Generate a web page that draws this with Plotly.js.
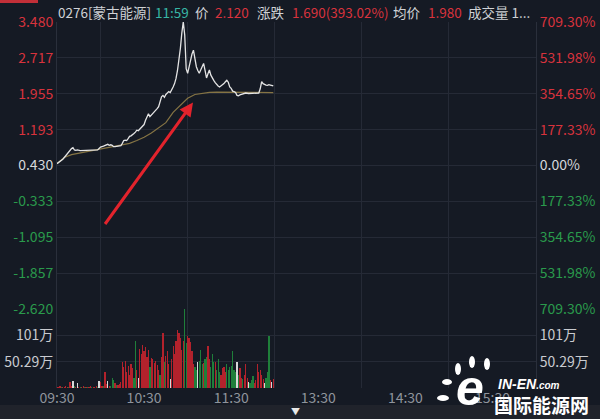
<!DOCTYPE html>
<html>
<head>
<meta charset="utf-8">
<script src="https://cdn.plot.ly/plotly-3.0.1.min.js"></script>
<style>
  html, body { margin: 0; padding: 0; background: #151a24; }
  #chart { width: 600px; height: 419px; }
</style>
</head>
<body>
<div id="chart"></div>
<script>
// ---------- data ----------
const prevClose = 0.430;

// minutes since 09:30 (trading-minute index; 12:00 joins 13:00 at 150)
const timeMin = [0,1,2,3,4,5,6,7,8,9,10,11,12,13,14,16,18,20,22,24,26,28,29,30,32,34,35,36,37,38,39,40,42,43,44,45,46,47,48,49,
  50,51,52,53,54,55,56,57,58,59,60,61,62,63,64,65,66,67,68,69,70,71,72,73,74,75,76,77,78,79,
  80,81,82,83,84,85,86,87,88,89,90,91,92,93,94,95,96,97,98,99,100,101,102,103,104,105,106,107,108,109,
  110,111,112,113,114,115,116,117,118,119,120,121,122,123,124,125,126,127,128,129,130,132,134,136,138,139,
  140,141,142,143,144,145,146,147,148,149];
const price = [0.470,0.490,0.520,0.540,0.560,0.600,0.640,0.660,0.700,0.740,0.790,0.810,0.760,0.750,0.760,0.745,0.750,0.750,0.750,0.750,0.755,0.760,0.790,0.820,0.840,0.860,0.880,0.860,0.870,0.860,0.830,0.830,0.835,0.840,0.850,0.900,0.960,0.970,0.960,1.000,
  1.050,1.060,1.080,1.110,1.140,1.180,1.170,1.200,1.240,1.260,1.300,1.390,1.460,1.530,1.470,1.500,1.550,1.570,1.600,1.640,1.680,1.780,1.890,1.920,1.880,1.940,1.980,2.000,1.980,2.030,
  2.100,2.170,2.280,2.450,2.650,2.920,3.250,3.480,3.200,2.490,2.390,2.550,2.680,2.800,2.880,2.650,2.530,2.450,2.390,2.460,2.540,2.600,2.450,2.290,2.380,2.460,2.350,2.280,2.240,2.190,
  2.140,2.120,2.100,2.120,2.150,2.170,2.210,2.240,2.200,2.100,2.070,2.010,2.000,1.980,1.920,1.910,1.930,1.940,1.940,1.960,1.970,1.960,1.960,1.960,1.955,1.970,
  2.060,2.210,2.170,2.150,2.140,2.135,2.150,2.140,2.130,2.120];

const avgTime  = [0,5,10,15,20,25,30,35,40,45,50,55,60,65,70,75,80,85,90,95,100,105,110,120,130,140,149];
const avgPrice = [0.470,0.600,0.660,0.690,0.710,0.740,0.770,0.800,0.830,0.860,0.900,0.960,1.030,1.120,1.230,1.340,1.560,1.720,1.860,1.940,1.970,1.985,1.990,1.990,1.985,1.980,1.980];

// volume per minute (万股), minutes 0..149; direction 1 up, -1 down, 0 flat
const volMin = Array.from({length: 150}, (_, i) => i);
const vol = [
  2,1,3,2,1,2,3,2,2,12,
  4,14,3,2,10,2,1,2,3,2,
  1,2,2,3,2,1,2,3,2,14,
  12,3,4,30,8,14,3,4,20,15,
  10,5,6,8,12,50,40,52,30,42,
  25,45,38,20,90,35,20,75,65,82,
  70,78,60,72,40,58,55,48,52,44,
  35,25,60,105,50,62,70,45,18,55,
  80,65,90,110,105,95,72,90,150.87,85,
  100,95,88,70,45,40,35,50,52,72,
  45,48,55,60,80,55,40,65,50,50,
  35,55,30,25,38,40,30,45,35,40,
  42,70,35,30,50,25,38,20,18,25,
  45,20,12,10,15,22,10,15,45,30,
  35,25,18,10,20,30,100,15,12,18];
const volDir = [
  1,1,1,-1,1,1,1,1,-1,1,
  1,0,-1,1,0,1,-1,1,1,-1,
  1,-1,1,1,-1,1,1,1,-1,0,
  1,1,-1,1,1,0,1,-1,-1,-1,
  1,-1,1,1,1,1,1,1,1,1,
  1,1,1,-1,-1,1,0,1,1,1,
  1,1,1,1,-1,1,1,1,1,1,
  1,-1,1,1,-1,1,1,1,0,1,
  1,1,1,1,1,1,1,1,-1,-1,
  1,1,1,1,1,-1,-1,0,-1,-1,
  -1,1,-1,-1,1,1,-1,-1,-1,1,
  -1,-1,-1,1,1,1,1,-1,-1,-1,
  -1,-1,-1,-1,0,-1,1,1,-1,1,
  1,1,0,-1,-1,-1,1,1,1,1,
  1,1,1,0,-1,-1,-1,1,0,1];

const priceTicks    = [3.480, 2.717, 1.955, 1.193, 0.430, -0.333, -1.095, -1.857, -2.620];
const priceTickText = ['3.480','2.717','1.955','1.193','0.430','-0.333','-1.095','-1.857','-2.620'];
const pctTickText   = ['709.30%','531.98%','354.65%','177.33%','0.00%','177.33%','354.65%','531.98%','709.30%'];
const volTicks      = [100.58, 50.29];
const volTickText   = ['101万', '50.29万'];
const volMax        = 150.87;
const timeTickVals  = [0, 60, 120, 180, 240, 300];
const timeTickText  = ['09:30','10:30','11:30','13:30','14:30','15:30'];

const headerSegments = [
  {text: '0276[蒙古能源]', kind: 'label'},
  {text: '11:59', kind: 'time'},
  {text: '价', kind: 'label'},
  {text: '2.120', kind: 'value'},
  {text: '涨跌', kind: 'label'},
  {text: '1.690(393.02%)', kind: 'value'},
  {text: '均价', kind: 'label'},
  {text: '1.980', kind: 'value'},
  {text: '成交量 1...', kind: 'label'}
];

// ---------- style ----------
const BG = '#151a24';
const GRID = '#252a36';
const RED = '#d8333d';
const GREEN = '#2a9a4c';
const WHITE = '#d6d8dc';
const FONT = '"Noto Sans CJK SC", "Noto Sans", sans-serif';
const W = 600, H = 419;
const M = {l: 57, r: 64, t: 22, b: 31};
const plotW = W - M.l - M.r, plotH = H - M.t - M.b;
const volFrac = 79 / plotH;
const px2x = px => (px - M.l) / plotW;
const px2y = py => (H - M.b - py) / plotH;

const colorFor = v => v > prevClose + 1e-9 ? RED : (v < prevClose - 1e-9 ? GREEN : WHITE);
const leftText = priceTickText.map((t, i) => `<span style="color:${colorFor(priceTicks[i])}">${t}</span>`);
const rightText = pctTickText.map((t, i) => `<span style="color:${colorFor(priceTicks[i])}">${t}</span>`);
const barColors = volDir.map(d => d > 0 ? '#b3222c' : (d < 0 ? '#1f7f3a' : '#d8d8d8'));

const traces = [
  {x: avgTime, y: avgPrice, type: 'scatter', mode: 'lines', xaxis: 'x', yaxis: 'y',
   line: {color: '#857444', width: 1.2}, hoverinfo: 'skip', showlegend: false},
  {x: timeMin, y: price, type: 'scatter', mode: 'lines', xaxis: 'x', yaxis: 'y',
   line: {color: '#e4e4e4', width: 1.3}, hoverinfo: 'skip', showlegend: false},
  {x: timeMin, y: price, type: 'scatter', mode: 'lines', xaxis: 'x', yaxis: 'y2',
   line: {color: 'rgba(0,0,0,0)', width: 0}, hoverinfo: 'skip', showlegend: false},
  {x: volMin, y: vol, type: 'bar', xaxis: 'x', yaxis: 'y3', width: 0.85,
   marker: {color: barColors, line: {width: 0}}, hoverinfo: 'skip', showlegend: false},
  {x: volMin, y: vol, type: 'scatter', mode: 'lines', xaxis: 'x', yaxis: 'y4',
   line: {color: 'rgba(0,0,0,0)', width: 0}, hoverinfo: 'skip', showlegend: false}
];

// header annotations positioned at pixel starts
const headerX = [56, 153, 193, 213, 255, 290, 391, 426, 466];
const headerColor = {label: '#cfd2d6', time: '#38b6a6', value: RED};
const annotations = headerSegments.map((s, i) => ({
  xref: 'paper', yref: 'paper', x: px2x(headerX[i]), y: px2y(12),
  xanchor: 'left', yanchor: 'middle', showarrow: false,
  text: s.text, font: {family: FONT, size: 13.5, color: headerColor[s.kind]}
}));

// red arrow
annotations.push({
  xref: 'x', yref: 'y', x: (193 - M.l) / plotW * 330, y: prevClose + (167 - 104) / 47.05,
  ax: -89, ay: 123, showarrow: true, arrowhead: 2, arrowsize: 0.9, arrowwidth: 3,
  arrowcolor: '#e3232c', text: ''
});

// watermark
annotations.push(
  {xref: 'paper', yref: 'paper', x: px2x(470), y: px2y(388), xanchor: 'center', yanchor: 'middle',
   showarrow: false, text: '<b><i>e</i></b>', font: {family: 'Liberation Sans, Arial, sans-serif', size: 50, color: '#ffffff'}},
  {xref: 'paper', yref: 'paper', x: px2x(496), y: px2y(384), xanchor: 'left', yanchor: 'middle',
   showarrow: false, text: '<b><i>IN-EN</i></b><span style="font-size:10px"><b><i>.com</i></b></span>',
   font: {family: 'Liberation Sans, Arial, sans-serif', size: 14, color: '#ffffff'}},
  {xref: 'paper', yref: 'paper', x: px2x(492), y: px2y(404), xanchor: 'left', yanchor: 'middle',
   showarrow: false, text: '<b>国际能源网</b>', font: {family: FONT, size: 19, color: '#ffffff'}},
  {xref: 'paper', yref: 'paper', x: px2x(295), y: px2y(411), xanchor: 'center', yanchor: 'middle',
   showarrow: false, text: '▼', font: {family: FONT, size: 9, color: '#e8e8e8'}}
);

const petals = [[447, 382, 5, 3], [458, 369, 3, 6], [472, 362, 3, 6], [487, 364, 3, 6], [443, 398, 6, 3]];
const shapes = [
  {type: 'rect', xref: 'paper', yref: 'paper', x0: px2x(0), x1: px2x(600), y0: px2y(419), y1: px2y(405),
   fillcolor: '#20232b', line: {width: 0}, layer: 'below'},
  {type: 'rect', xref: 'paper', yref: 'paper', x0: px2x(0), x1: px2x(38), y0: px2y(3), y1: px2y(0),
   fillcolor: '#c22f38', line: {width: 0}}
].concat(petals.map(p => ({
  type: 'circle', xref: 'paper', yref: 'paper',
  x0: px2x(p[0] - p[2]), x1: px2x(p[0] + p[2]), y0: px2y(p[1] + p[3]), y1: px2y(p[1] - p[3]),
  fillcolor: '#ffffff', line: {width: 0}
})));

const layout = {
  width: W, height: H,
  margin: M,
  paper_bgcolor: BG, plot_bgcolor: BG,
  font: {family: FONT, size: 14, color: WHITE},
  showlegend: false,
  bargap: 0,
  xaxis: {
    range: [0, 330], anchor: 'y3', fixedrange: true,
    tickmode: 'array', tickvals: timeTickVals, ticktext: timeTickText,
    showgrid: false, zeroline: false, showline: false, ticks: '',
    tickfont: {family: FONT, size: 14, color: '#8f949c'},
    minor: {tick0: 30, dtick: 60, showgrid: true, gridcolor: GRID, gridwidth: 1, ticks: ''}
  },
  yaxis: {
    domain: [volFrac, 1], range: [-2.620, 3.480], fixedrange: true,
    tickmode: 'array', tickvals: priceTicks, ticktext: leftText,
    showgrid: true, gridcolor: GRID, zeroline: false,
    showline: true, linecolor: '#2a2f3b', ticks: '',
    tickfont: {family: FONT, size: 14}
  },
  yaxis2: {
    overlaying: 'y', side: 'right', range: [-2.620, 3.480], fixedrange: true,
    tickmode: 'array', tickvals: priceTicks, ticktext: rightText,
    showgrid: false, zeroline: false, showline: true, linecolor: '#2a2f3b', ticks: '',
    tickfont: {family: FONT, size: 14}
  },
  yaxis3: {
    domain: [0, volFrac], range: [0, volMax], fixedrange: true,
    tickmode: 'array', tickvals: volTicks, ticktext: volTickText,
    showgrid: true, gridcolor: GRID, zeroline: false,
    showline: true, linecolor: '#2a2f3b', ticks: '',
    tickfont: {family: FONT, size: 14, color: '#c9cbd0'}
  },
  yaxis4: {
    overlaying: 'y3', side: 'right', range: [0, volMax], fixedrange: true,
    tickmode: 'array', tickvals: volTicks, ticktext: volTickText,
    showgrid: false, zeroline: false, showline: true, linecolor: '#2a2f3b', ticks: '',
    tickfont: {family: FONT, size: 14, color: '#c9cbd0'}
  },
  annotations: annotations,
  shapes: shapes
};

Plotly.newPlot('chart', traces, layout, {staticPlot: true, displayModeBar: false});
</script>
</body>
</html>
